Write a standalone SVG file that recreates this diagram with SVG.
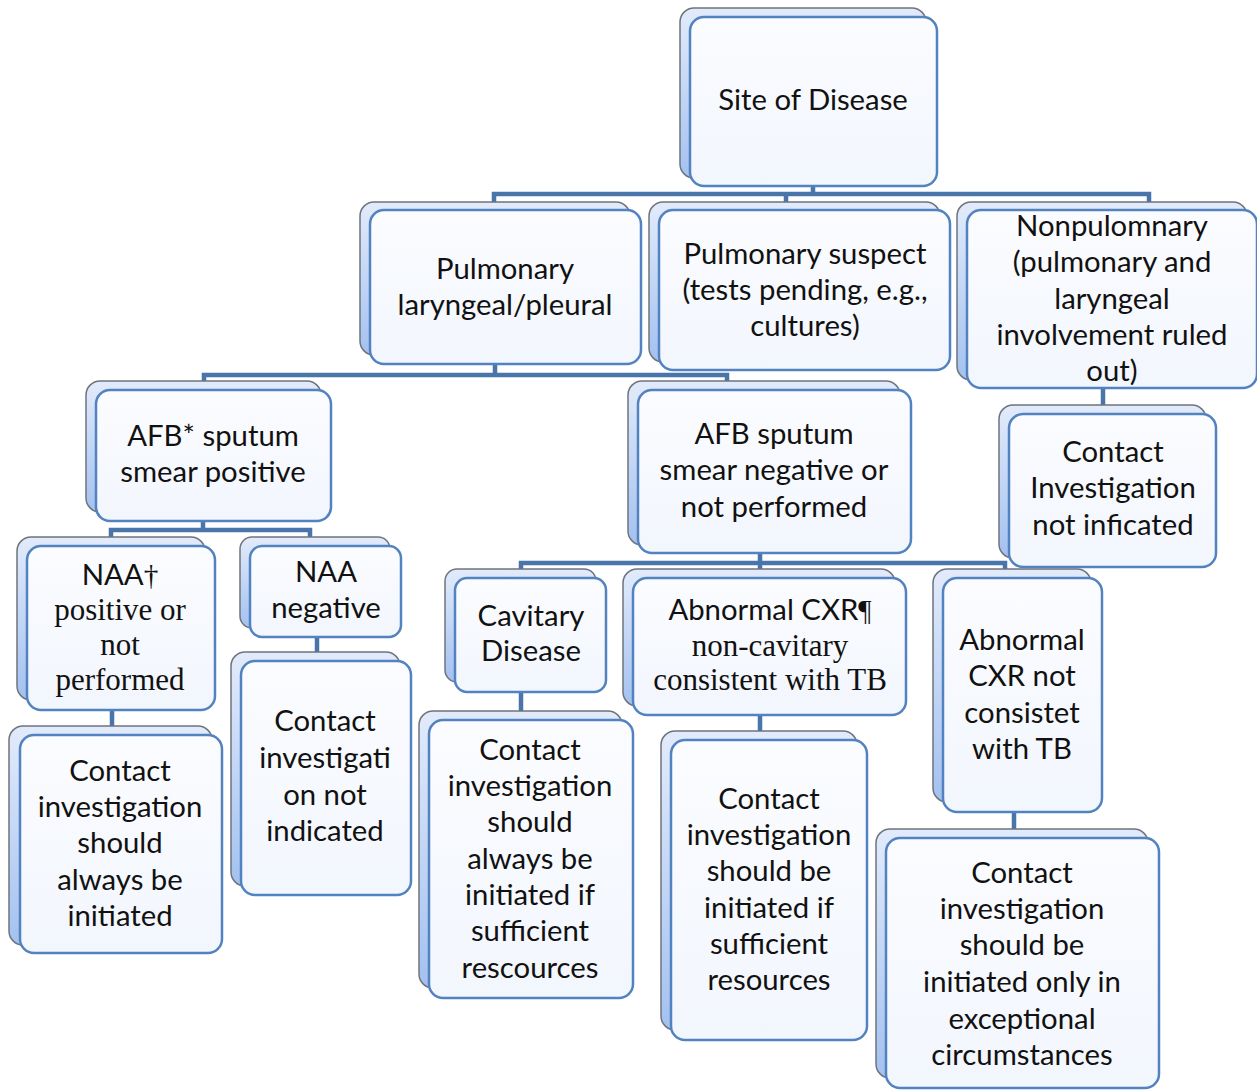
<svg xmlns="http://www.w3.org/2000/svg" width="1257" height="1090" viewBox="0 0 1257 1090">
<defs>
<linearGradient id="gb" x1="0" y1="0" x2="0" y2="1">
<stop offset="0" stop-color="#e2ebfb"/>
<stop offset="1" stop-color="#a3c1f0"/>
</linearGradient>
<linearGradient id="gf" x1="0" y1="0" x2="0" y2="1">
<stop offset="0" stop-color="#fbfcff"/>
<stop offset="1" stop-color="#f2f6fd"/>
</linearGradient>
</defs>
<style>
.back{fill:url(#gb);stroke:#6f747c;stroke-width:1.5}
.front{fill:url(#gf);stroke:#5283c0;stroke-width:2.5}
.t{font-family:Lato,"Liberation Sans",sans-serif;font-size:29.3px;fill:#111;text-anchor:middle}
.s{font-family:"Liberation Serif",serif;font-size:31px;fill:#111;text-anchor:middle}
.c{fill:none;stroke:#4a75aa;stroke-width:4.5}
</style>
<rect width="1257" height="1090" fill="#fff"/>
<g id="connectors">
<path class="c" d="M813 186V194M494 210V194H1149V210M786 194V210"/>
<path class="c" d="M495 364V375M204 390V375H727V390"/>
<path class="c" d="M1103 388V414"/>
<path class="c" d="M203 521V530M111 546V530H310V546"/>
<path class="c" d="M760 553V563M521 578V563H1005V578M760 563V578"/>
<path class="c" d="M112 710V735"/>
<path class="c" d="M317 637V661"/>
<path class="c" d="M521 692V720"/>
<path class="c" d="M760 715V740"/>
<path class="c" d="M1014 812V838"/>
</g>
<g id="n1"><rect class="back" x="680" y="8" width="246" height="170" rx="14"/><rect class="front" x="690" y="17" width="247" height="169" rx="14"/><text class="t" x="813" y="110">Site of Disease</text></g>
<g id="n2"><rect class="back" x="360" y="202" width="270" height="153" rx="14"/><rect class="front" x="370" y="210" width="271" height="154" rx="14"/><text class="t" x="505" y="279">Pulmonary</text><text class="t" x="505" y="315">laryngeal/pleural</text></g>
<g id="n3"><rect class="back" x="649" y="202" width="291" height="160" rx="14"/><rect class="front" x="659" y="210" width="291" height="160" rx="14"/><text class="t" x="805" y="264">Pulmonary suspect</text><text class="t" x="805" y="300">(tests pending, e.g.,</text><text class="t" x="805" y="336">cultures)</text></g>
<g id="n4"><rect class="back" x="957" y="202" width="290" height="178" rx="14"/><rect class="front" x="967" y="210" width="290" height="178" rx="14"/><text class="t" x="1112" y="236">Nonpulomnary</text><text class="t" x="1112" y="272">(pulmonary and</text><text class="t" x="1112" y="309">laryngeal</text><text class="t" x="1112" y="345">involvement ruled</text><text class="t" x="1112" y="381">out)</text></g>
<g id="n5"><rect class="back" x="86" y="381" width="235" height="131" rx="14"/><rect class="front" x="96" y="390" width="235" height="131" rx="14"/><text class="t" x="213" y="446">AFB* sputum</text><text class="t" x="213" y="482">smear positive</text></g>
<g id="n6"><rect class="back" x="628" y="381" width="272" height="164" rx="14"/><rect class="front" x="638" y="390" width="273" height="163" rx="14"/><text class="t" x="774" y="444">AFB sputum</text><text class="t" x="774" y="480">smear negative or</text><text class="t" x="774" y="517">not performed</text></g>
<g id="n7"><rect class="back" x="999" y="405" width="207" height="153" rx="14"/><rect class="front" x="1009" y="414" width="207" height="153" rx="14"/><text class="t" x="1113" y="462">Contact</text><text class="t" x="1113" y="498">Investigation</text><text class="t" x="1113" y="535">not inficated</text></g>
<g id="n8"><rect class="back" x="17" y="537" width="188" height="163" rx="14"/><rect class="front" x="27" y="546" width="188" height="164" rx="14"/><text class="t" x="120" y="585">NAA<tspan font-family="Liberation Serif,serif">†</tspan></text><text class="s" x="120" y="620">positive or</text><text class="s" x="120" y="655">not</text><text class="s" x="120" y="690">performed</text></g>
<g id="n9"><rect class="back" x="240" y="537" width="150" height="91" rx="12"/><rect class="front" x="250" y="546" width="151" height="91" rx="12"/><text class="t" x="326" y="582">NAA</text><text class="t" x="326" y="618">negative</text></g>
<g id="n10"><rect class="back" x="9" y="726" width="203" height="219" rx="14"/><rect class="front" x="20" y="735" width="202" height="218" rx="14"/><text class="t" x="120" y="781">Contact</text><text class="t" x="120" y="817">investigation</text><text class="t" x="120" y="853">should</text><text class="t" x="120" y="890">always be</text><text class="t" x="120" y="926">initiated</text></g>
<g id="n11"><rect class="back" x="231" y="652" width="169" height="234" rx="14"/><rect class="front" x="241" y="661" width="170" height="234" rx="14"/><text class="t" x="325" y="731">Contact</text><text class="t" x="325" y="768">investigati</text><text class="t" x="325" y="805">on not</text><text class="t" x="325" y="841">indicated</text></g>
<g id="n12"><rect class="back" x="445" y="569" width="151" height="113" rx="12"/><rect class="front" x="455" y="578" width="151" height="114" rx="12"/><text class="t" x="531" y="626">Cavitary</text><text class="t" x="531" y="661">Disease</text></g>
<g id="n13"><rect class="back" x="623" y="569" width="272" height="137" rx="14"/><rect class="front" x="633" y="578" width="273" height="137" rx="14"/><text class="t" x="770" y="620">Abnormal CXR<tspan font-family="Liberation Serif,serif">¶</tspan></text><text class="s" x="770" y="656">non-cavitary</text><text class="s" x="770" y="690">consistent with TB</text></g>
<g id="n14"><rect class="back" x="933" y="569" width="158" height="233" rx="14"/><rect class="front" x="943" y="578" width="159" height="234" rx="14"/><text class="t" x="1022" y="650">Abnormal</text><text class="t" x="1022" y="686">CXR not</text><text class="t" x="1022" y="723">consistet</text><text class="t" x="1022" y="759">with TB</text></g>
<g id="n15"><rect class="back" x="419" y="711" width="203" height="277" rx="14"/><rect class="front" x="429" y="720" width="204" height="278" rx="14"/><text class="t" x="530" y="760">Contact</text><text class="t" x="530" y="796">investigation</text><text class="t" x="530" y="832">should</text><text class="t" x="530" y="869">always be</text><text class="t" x="530" y="905">initiated if</text><text class="t" x="530" y="941">sufficient</text><text class="t" x="530" y="978">rescources</text></g>
<g id="n16"><rect class="back" x="661" y="731" width="196" height="299" rx="14"/><rect class="front" x="671" y="740" width="196" height="300" rx="14"/><text class="t" x="769" y="809">Contact</text><text class="t" x="769" y="845">investigation</text><text class="t" x="769" y="881">should be</text><text class="t" x="769" y="918">initiated if</text><text class="t" x="769" y="954">sufficient</text><text class="t" x="769" y="990">resources</text></g>
<g id="n17"><rect class="back" x="876" y="829" width="272" height="249" rx="14"/><rect class="front" x="886" y="838" width="273" height="250" rx="14"/><text class="t" x="1022" y="883">Contact</text><text class="t" x="1022" y="919">investigation</text><text class="t" x="1022" y="955">should be</text><text class="t" x="1022" y="992">initiated only in</text><text class="t" x="1022" y="1029">exceptional</text><text class="t" x="1022" y="1065">circumstances</text></g>
</svg>
